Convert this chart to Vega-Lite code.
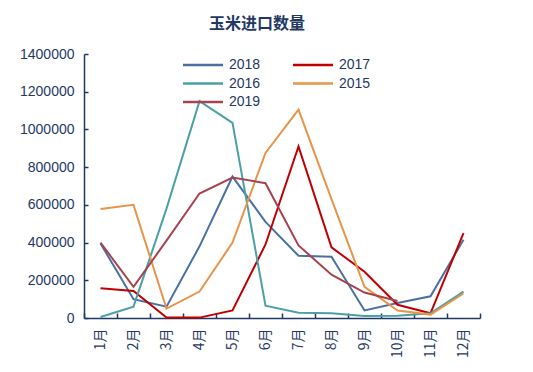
{
  "$schema": "https://vega.github.io/schema/vega-lite/v6.json",
  "width": 396,
  "height": 264,
  "autosize": {"type": "none"},
  "padding": {"left": 84, "top": 54, "right": 53, "bottom": 54},
  "background": "white",
  "title": {
    "text": "玉米进口数量",
    "fontSize": 16,
    "fontWeight": "bold",
    "font": "Noto Sans CJK SC",
    "color": "#1F3864",
    "anchor": "middle",
    "dx": -25,
    "offset": 15
  },
  "config": {
    "view": {"stroke": null},
    "font": "Liberation Sans"
  },
  "data": {
    "values": [
      {"month": "1月", "year": "2018", "value": 395000},
      {"month": "2月", "year": "2018", "value": 100000},
      {"month": "3月", "year": "2018", "value": 60000},
      {"month": "4月", "year": "2018", "value": 380000},
      {"month": "5月", "year": "2018", "value": 750000},
      {"month": "6月", "year": "2018", "value": 510000},
      {"month": "7月", "year": "2018", "value": 330000},
      {"month": "8月", "year": "2018", "value": 325000},
      {"month": "9月", "year": "2018", "value": 40000},
      {"month": "10月", "year": "2018", "value": 80000},
      {"month": "11月", "year": "2018", "value": 115000},
      {"month": "12月", "year": "2018", "value": 415000},
      {"month": "1月", "year": "2017", "value": 158000},
      {"month": "2月", "year": "2017", "value": 143000},
      {"month": "3月", "year": "2017", "value": 3000},
      {"month": "4月", "year": "2017", "value": 2000},
      {"month": "5月", "year": "2017", "value": 40000},
      {"month": "6月", "year": "2017", "value": 390000},
      {"month": "7月", "year": "2017", "value": 910000},
      {"month": "8月", "year": "2017", "value": 375000},
      {"month": "9月", "year": "2017", "value": 245000},
      {"month": "10月", "year": "2017", "value": 70000},
      {"month": "11月", "year": "2017", "value": 25000},
      {"month": "12月", "year": "2017", "value": 450000},
      {"month": "1月", "year": "2016", "value": 5000},
      {"month": "2月", "year": "2016", "value": 60000},
      {"month": "3月", "year": "2016", "value": 580000},
      {"month": "4月", "year": "2016", "value": 1150000},
      {"month": "5月", "year": "2016", "value": 1035000},
      {"month": "6月", "year": "2016", "value": 65000},
      {"month": "7月", "year": "2016", "value": 28000},
      {"month": "8月", "year": "2016", "value": 25000},
      {"month": "9月", "year": "2016", "value": 10000},
      {"month": "10月", "year": "2016", "value": 12000},
      {"month": "11月", "year": "2016", "value": 25000},
      {"month": "12月", "year": "2016", "value": 140000},
      {"month": "1月", "year": "2015", "value": 578000},
      {"month": "2月", "year": "2015", "value": 600000},
      {"month": "3月", "year": "2015", "value": 50000},
      {"month": "4月", "year": "2015", "value": 140000},
      {"month": "5月", "year": "2015", "value": 400000},
      {"month": "6月", "year": "2015", "value": 875000},
      {"month": "7月", "year": "2015", "value": 1105000},
      {"month": "8月", "year": "2015", "value": 630000},
      {"month": "9月", "year": "2015", "value": 165000},
      {"month": "10月", "year": "2015", "value": 40000},
      {"month": "11月", "year": "2015", "value": 18000},
      {"month": "12月", "year": "2015", "value": 130000},
      {"month": "1月", "year": "2019", "value": 400000},
      {"month": "2月", "year": "2019", "value": 165000},
      {"month": "3月", "year": "2019", "value": 410000},
      {"month": "4月", "year": "2019", "value": 660000},
      {"month": "5月", "year": "2019", "value": 745000},
      {"month": "6月", "year": "2019", "value": 715000},
      {"month": "7月", "year": "2019", "value": 385000},
      {"month": "8月", "year": "2019", "value": 230000},
      {"month": "9月", "year": "2019", "value": 135000},
      {"month": "10月", "year": "2019", "value": 90000}
    ]
  },
  "mark": {"type": "line", "strokeWidth": 2},
  "encoding": {
    "x": {
      "field": "month",
      "type": "ordinal",
      "sort": null,
      "bandPosition": 0.5,
      "scale": {"type": "band", "paddingInner": 0, "paddingOuter": 0},
      "axis": {
        "title": null,
        "tickBand": "extent",
        "tickSize": -5,
        "tickColor": "#1F3864",
        "domainColor": "#1F3864",
        "domainWidth": 1.5,
        "tickWidth": 1.5,
        "labelAngle": -90,
        "labelAlign": "right",
        "labelBaseline": "middle",
        "labelPadding": 15,
        "labelFontSize": 14,
        "labelColor": "#1F3864",
        "labelFont": "Noto Sans CJK SC"
      }
    },
    "y": {
      "field": "value",
      "type": "quantitative",
      "scale": {"domain": [0, 1400000], "nice": false},
      "axis": {
        "title": null,
        "values": [0, 200000, 400000, 600000, 800000, 1000000, 1200000, 1400000],
        "format": "d",
        "tickSize": -4,
        "tickColor": "#1F3864",
        "tickWidth": 1.5,
        "domainColor": "#1F3864",
        "domainWidth": 1.5,
        "labelPadding": 14,
        "labelFontSize": 14,
        "labelColor": "#1F3864",
        "grid": false
      }
    },
    "color": {
      "field": "year",
      "type": "nominal",
      "scale": {
        "domain": ["2018", "2016", "2019", "2017", "2015"],
        "range": ["#4A70A3", "#4AA0A6", "#A5434F", "#C00000", "#E8944A"]
      },
      "legend": {
        "title": null,
        "orient": "none",
        "legendX": 112,
        "legendY": 4,
        "columns": 2,
        "columnPadding": 27,
        "rowPadding": 4.5,
        "symbolType": "M-4,0H4",
        "symbolSize": 100,
        "symbolStrokeWidth": 2.5,
        "labelFontSize": 14,
        "labelColor": "#1F3864",
        "labelOffset": 19,
        "padding": 0
      }
    }
  }
}
